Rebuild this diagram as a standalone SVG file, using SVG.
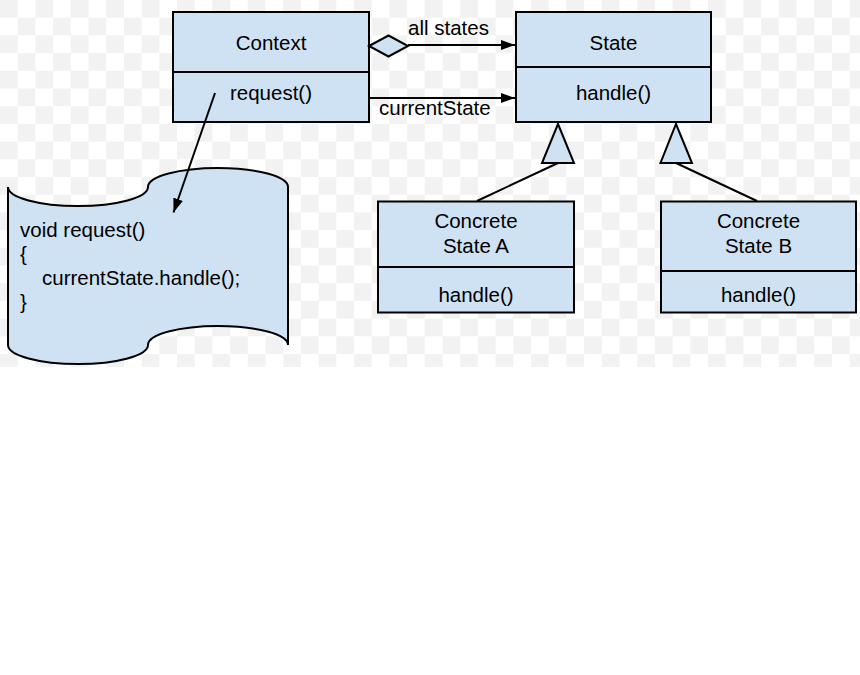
<svg xmlns="http://www.w3.org/2000/svg" width="860" height="675" viewBox="0 0 860 675">
<defs>
<pattern id="checker" x="0" y="0" width="35.4" height="35.4" patternUnits="userSpaceOnUse">
<rect x="0" y="0" width="35.4" height="35.4" fill="#ffffff"/>
<rect x="0" y="0" width="17.7" height="17.7" fill="#f2f2f2"/>
<rect x="17.7" y="17.7" width="17.7" height="17.7" fill="#f2f2f2"/>
</pattern>
<marker id="arrow" markerWidth="14" markerHeight="10" refX="14" refY="5" orient="auto" markerUnits="userSpaceOnUse">
<path d="M0,0 L14,5 L0,10 Z" fill="#000"/>
</marker>
</defs>
<style>
.box{fill:#cfe2f3;stroke:#000;stroke-width:2}
.div{stroke:#000;stroke-width:2}
.t{font-family:"Liberation Sans",Arial,sans-serif;font-size:20.5px;fill:#000}
.c{text-anchor:middle}
.edge{stroke:#000;stroke-width:2;fill:none}
.head{fill:#cfe2f3;stroke:#000;stroke-width:2}
</style>
<rect x="0" y="0" width="860" height="675" fill="#ffffff"/>
<rect x="0" y="0" width="860" height="367" fill="url(#checker)"/>

<g id="context">
<rect class="box" x="173" y="12" width="196" height="110"/>
<line class="div" x1="173" y1="72" x2="369" y2="72"/>
<text class="t c" x="271" y="50">Context</text>
<text class="t c" x="271" y="100">request()</text>
</g>

<g id="state">
<rect class="box" x="516" y="12" width="195" height="110"/>
<line class="div" x1="516" y1="67" x2="711" y2="67"/>
<text class="t c" x="613.5" y="50">State</text>
<text class="t c" x="613.5" y="99.5">handle()</text>
</g>

<g id="concrete-a">
<rect class="box" x="378" y="201.5" width="196" height="111"/>
<line class="div" x1="378" y1="267" x2="574" y2="267"/>
<text class="t c" x="476" y="228">Concrete</text>
<text class="t c" x="476" y="252.5">State A</text>
<text class="t c" x="476" y="301.5">handle()</text>
</g>

<g id="concrete-b">
<rect class="box" x="661" y="201.5" width="195" height="111"/>
<line class="div" x1="661" y1="271" x2="856" y2="271"/>
<text class="t c" x="758.5" y="228">Concrete</text>
<text class="t c" x="758.5" y="252.5">State B</text>
<text class="t c" x="758.5" y="301.5">handle()</text>
</g>

<g id="code-note">
<path class="box" d="M8,187 A70,19 0 0 0 148,187 A70,19 0 0 1 288,187 L288,345 A70,19 0 0 0 148,345 A70,19 0 0 1 8,345 Z"/>
<text class="t" x="20" y="237">void request()</text>
<text class="t" x="20" y="261">{</text>
<text class="t" x="42" y="285">currentState.handle();</text>
<text class="t" x="20" y="309">}</text>
</g>

<g id="connectors">
<polygon class="head" points="369,46 388.5,35.5 408,46 388.5,56.5"/>
<line class="edge" x1="408" y1="45" x2="515" y2="45" marker-end="url(#arrow)"/>
<text class="t" x="408" y="35">all states</text>
<line class="edge" x1="370" y1="98" x2="515" y2="98" marker-end="url(#arrow)"/>
<text class="t" x="379" y="115">currentState</text>
<line class="edge" x1="215" y1="93" x2="173.5" y2="212.5" marker-end="url(#arrow)"/>
<line class="edge" x1="558" y1="163" x2="477" y2="201"/>
<polygon class="head" points="558,124 574,163 542,163"/>
<line class="edge" x1="676" y1="163" x2="757" y2="201"/>
<polygon class="head" points="676,124 692,163 660.5,163"/>
</g>
</svg>
